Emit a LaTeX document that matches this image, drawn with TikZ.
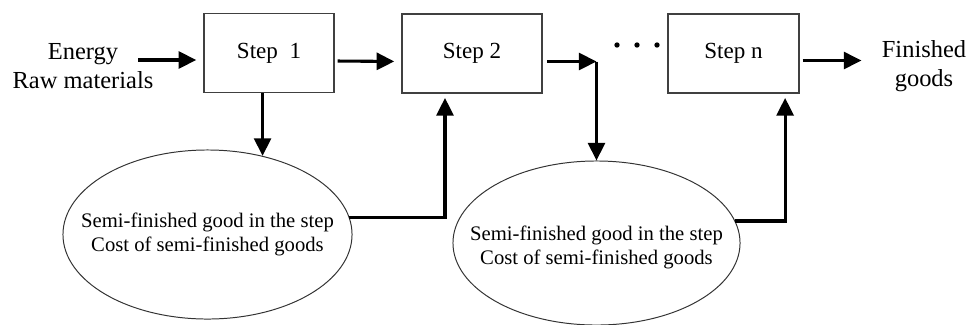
\documentclass[tikz,border=0pt]{standalone}
\usepackage{fontspec}
\setmainfont{Liberation Serif}
\usetikzlibrary{shapes.geometric,arrows.meta}

\tikzset{
  stepbox/.style={draw=black!75,line width=1pt,minimum height=1.975cm,font=\fontsize{16.4}{19}\selectfont},
  goodsell/.style={draw=black!80,ellipse,line width=0.7pt,inner sep=0pt},
  goodstext/.style={align=center,font=\fontsize{14.7}{17}\selectfont},
  sidetext/.style={align=center,font=\fontsize{17.4}{20.5}\selectfont},
  flow/.style={line width=2.2pt,-{Triangle[length=12.5pt,width=12pt]}}
}

\begin{document}
\begin{tikzpicture}[x=0.025cm,y=-0.025cm]
  \useasboundingbox (0,0) rectangle (970,324);

  \node[stepbox,minimum width=3.25cm] (s1) at (269,53) {Step\ \ 1};
  \node[stepbox,minimum width=3.5cm] (s2) at (472,53.5) {Step 2};
  \node[stepbox,minimum width=3.275cm] (sn) at (733.5,53.5) {Step n};

  \node[sidetext] (inp) at (83,66) {Energy\\Raw materials};
  \node[sidetext] (out) at (924,66) {Finished\\goods};

  \node[goodsell,minimum width=7.225cm,minimum height=4.225cm] (e1) at (207.5,234.5) {};
  \node[goodstext] (t1) at (e1.center) {Semi-finished good in the step\\Cost of semi-finished goods};
  \node[goodsell,minimum width=7.175cm,minimum height=4.1cm] (e2) at (596.5,243) {};
  \node[goodstext] (t2) at ([yshift=-0.1cm]e2.center) {Semi-finished good in the step\\Cost of semi-finished goods};

  \coordinate (in) at (138,60);
  \coordinate (j) at ([yshift=-0.2cm]s2.east -| e2.north);

  % main line
  \draw[flow,shorten >=5pt] (in) -- (in -| s1.west);
  \draw[flow,shorten <=2pt,shorten >=5pt] ([yshift=-0.2cm]s1.east) -- ([yshift=-0.2cm]s2.west);
  \draw[flow,shorten <=3pt] ([yshift=-0.2cm]s2.east) -- (j);
  \draw[flow,shorten <=2pt,shorten >=11pt] ([yshift=-0.175cm]sn.east) -- ([yshift=-0.175cm]sn.east -| out.west);
  \foreach \x in {617,637,657}
    \fill (\x,45) circle (1.9pt);

  % semi-finished goods
  \draw[flow] (s1.south -| e1.55) -- (e1.55);
  \draw[flow] (j) -- (e2.north);
  \draw[flow,shorten >=3pt] (e1.7) -| ([xshift=-0.675cm]s2.south);
  \draw[flow,shorten >=3pt] (e2.9) -| ([xshift=1.29cm]sn.south);
\end{tikzpicture}
\end{document}
